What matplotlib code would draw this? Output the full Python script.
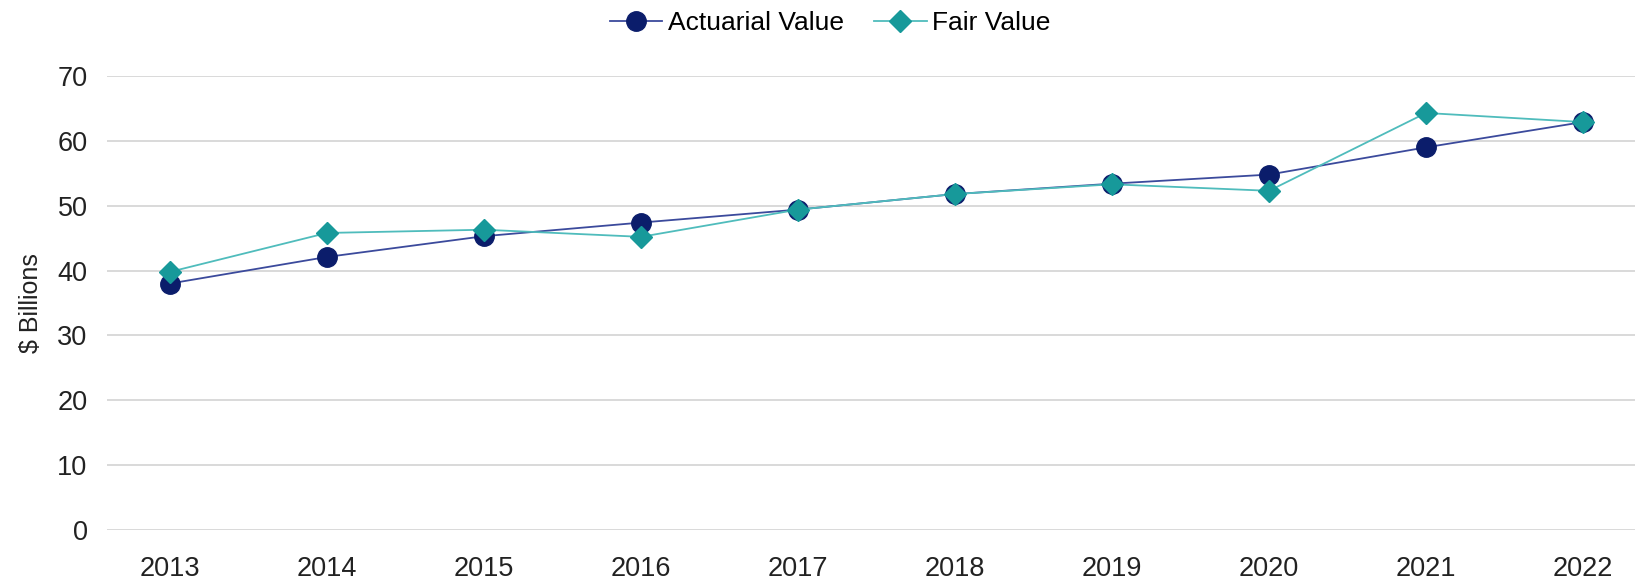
import matplotlib
matplotlib.use("Agg")
import matplotlib.pyplot as plt

years = ["2013", "2014", "2015", "2016", "2017", "2018", "2019", "2020", "2021", "2022"]
actuarial = [38.0, 42.1, 45.3, 47.4, 49.4, 51.8, 53.4, 54.8, 59.0, 62.9]
fair = [39.8, 45.8, 46.3, 45.2, 49.4, 51.8, 53.3, 52.3, 64.3, 62.9]
yticks = [0, 10, 20, 30, 40, 50, 60, 70]

plt.rcParams['font.family'] = ['Liberation Sans', 'DejaVu Sans']

fig = plt.figure(figsize=(16.35, 5.83), dpi=100)
ax = fig.add_axes([107/1635, 1 - 530/583, 1 - 107/1635, (530 - 76)/583])

x = list(range(len(years)))
ax.plot(x, actuarial, color='#3b4a9c', lw=1.3, marker='o', markersize=14,
        markerfacecolor='#0b1d6b', markeredgecolor='#0b1d6b', label='Actuarial Value', zorder=3)
ax.plot(x, fair, color='#4fbcbc', lw=1.3, marker='D', markersize=11,
        markerfacecolor='#17999a', markeredgecolor='#17999a', label='Fair Value', zorder=4)

ax.set_xlim(-0.401, 9.331)
ax.set_ylim(0, 70)
ax.set_xticks(x)
ax.set_xticklabels(years)
ax.set_yticks(yticks)
ax.grid(axis='y', color='#d9d9d9', lw=1.4)
ax.set_axisbelow(True)
for s in ax.spines.values():
    s.set_visible(False)
ax.tick_params(axis='both', length=0, labelsize=19.5, colors='#222222')
ax.tick_params(axis='y', pad=14)
ax.tick_params(axis='x', pad=19)
ax.set_ylabel('$ Billions', fontsize=18, color='#222222', labelpad=10)

fig.legend(loc='center', bbox_to_anchor=(830/1635, 1 - 23/583), ncol=2, frameon=False,
           fontsize=19, handlelength=2.0, columnspacing=1.15, handletextpad=0.2)

fig.savefig('out.png', dpi=100)
